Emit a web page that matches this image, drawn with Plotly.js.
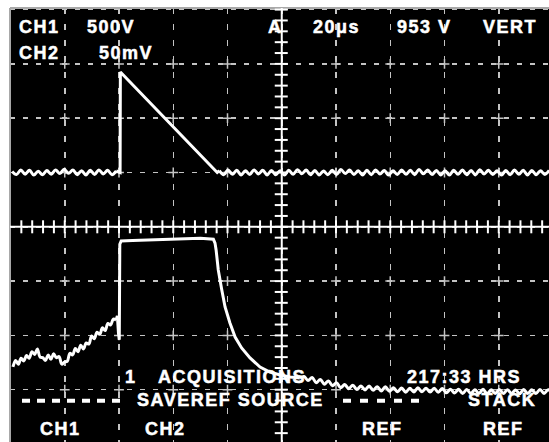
<!DOCTYPE html>
<html><head><meta charset="utf-8">
<script src="https://cdn.plot.ly/plotly-3.0.1.min.js"></script>
<style>
html,body{margin:0;padding:0;background:#fff;}
#chart{width:549px;height:442px;}
.annotation-text{letter-spacing:1.5px;stroke:#ffffff;stroke-width:0.5px;}
</style></head><body><div id="chart"></div>
<script>
// ---- scope settings ----
const timePerDivUs = 20;
const ch1VoltsPerDiv = 500;
const ch1PositionDiv = 1;
const ch2MilliVoltsPerDiv = 50;
const ch2PositionDiv = -3;

// ---- CH1 (V) vs time (µs) ----
const ch1PreTime = [0.6,2.2,3.8,5.4,7.0,8.6,10.2,11.8,13.4,15.0,16.6,18.2,19.8,21.4,23.0,24.6,26.2,27.8,29.4,31.0,32.6,34.2,35.8,37.4,39.0];
const ch1PreVolts = [10,-18,22,-15,20,-24,12,-20,18,-16,24,-10,30,-8,22,-20,16,-22,20,-18,24,-14,20,-20,14];
const ch1PulseTime = [39.0,40.4,40.5,76.2,77.0];
const ch1PulseVolts = [14,0,925,0,18];
const ch1PostTime = [77.0,78.6,80.2,81.8,83.4,85.0,86.6,88.2,89.8,91.4,93.0,94.6,96.2,97.8,99.4,101.0,102.6,104.2,105.8,107.4,109.0,110.6,112.2,113.8,115.4,117.0,118.6,120.2,121.8,123.4,125.0,126.6,128.2,129.8,131.4,133.0,134.6,136.2,137.8,139.4,141.0,142.6,144.2,145.8,147.4,149.0,150.6,152.2,153.8,155.4,157.0,158.6,160.2,161.8,163.4,165.0,166.6,168.2,169.8,171.4,173.0,174.6,176.2,177.8,179.4,181.0,182.6,184.2,185.8,187.4,189.0,190.6,192.2,193.8,195.4,197.0,198.6];
const ch1PostVolts = [18,-20,22,-16,20,-22,16,-18,24,-14,20,-22,18,-20,16,-24,20,-16,26,-12,22,-20,18,-22,14,-20,20,-18,28,-10,22,-18,16,-22,20,-20,24,-14,18,-24,16,-18,22,-16,20,-20,28,-12,24,-18,18,-22,16,-24,20,-16,22,-20,18,-22,26,-14,20,-18,16,-24,18,-20,22,-16,20,-22,18,-20,16,-18,20];

// ---- CH2 (mV) vs time (µs) ----
const ch2PreTime = [0.9,1.9,2.9,3.9,4.9,5.9,6.9,7.9,8.9,9.9,10.9,11.9,12.9,13.9,14.9,15.9,16.9,17.9,18.9,19.9,20.9,21.9,22.9,23.9,24.9,25.9,26.9,27.9,28.9,29.9,30.9,31.9,32.9,33.9,34.9,35.9,36.9,37.9,38.9];
const ch2PreMilliVolts = [21,27,23.5,29,26.5,31.5,29,35,32.5,37.5,30,29.5,27,32,28,33,29.5,30.5,23.5,25.5,26,33.5,32,38,35,41,37.5,43,42,49.5,47,53,51,57,54.5,61,59.5,65,64];
const ch2PulseTime = [38.9,39.4,39.8,40.1,40.3,40.8,45,55,65,70,74.8,75.4,75.8,76.6,77.9,79.1,80.9,82.8,85.2,88.3,92.0,95.6,99.4,103.0,106.7];
const ch2PulseMilliVolts = [64,68,52,46,134,137,137.5,138.5,139,139.5,138.5,135,128.7,110.2,91.8,76.2,61.4,48.5,38.4,29.2,20.9,16.3,13.5,11.7,10.8];
const ch2PostTime = [106.7,108.2,109.7,111.2,112.7,114.2,115.7,117.2,118.7,120.2,121.7,123.2,124.7,126.2,127.7,129.2,130.7,132.2,133.7,135.2,136.7,138.2,139.7,141.2,142.7,144.2,145.7,147.2,148.7,150.2,151.7,153.2,154.7,156.2,157.7,159.2,160.7,162.2,163.7,165.2,166.7,168.2,169.7,171.2,172.7,174.2,175.7,177.2,178.7,180.2,181.7,183.2,184.7,186.2,187.7,189.2,190.7,192.2,193.7,195.2,196.7,198.2,199.7];
const ch2PostMilliVolts = [10.8,12.2,8.5,11.2,6.4,9.4,5.1,8.1,3.7,6.4,1.8,4.7,0.9,4.2,0.1,3.5,-0.2,3.4,-0.4,2.7,-1.1,2.7,-1.5,1.7,-1.9,1.5,-2.3,1.3,-2.1,1.7,-1.9,1.4,-2.2,1.4,-2.4,1.0,-2.9,0.5,-3.1,0.3,-3.5,0.2,-3.6,0.0,-3.4,0.3,-3.8,-0.1,-3.5,0.2,-3.6,0.0,-3.4,-0.2,-3.7,0.1,-3.5,-0.1,-3.6,0.2,-3.4,0.0,-3.2];

// ---- on-screen readout texts ----
const screenLabels = ['CH1','500V','CH2','50mV','A','20\u03bcs','953 V','VERT','1','ACQUISITIONS','217:33 HRS','SAVEREF SOURCE','STACK','CH1','CH2','REF','REF'];
const labelLeftPx = [17,85,17,97,266,311,395,481,123,156,405,135,466,38,143,360,481];
const labelMidPx  = [27,27,53,53,27,27,27,27,376.5,376.5,376.5,399.5,399.5,428.5,428.5,428.5,428.5];

// ---- screen geometry ----
const W = 549, H = 442, ML = 10, MT = 8;
const pxPerDivX = 54.25, pxPerDivY = 54.3;
const x0px = 10.5, y0px = 226.8; // left edge of graticule, vertical centre
const plotW = W - ML, plotH = H - MT;
const xLeft = (ML - x0px) / pxPerDivX * timePerDivUs;
const xRight = xLeft + plotW / pxPerDivX * timePerDivUs;
const yTop = (y0px - MT) / pxPerDivY;
const yBot = yTop - plotH / pxPerDivY;
const px2paperX = p => (p - ML) / plotW;
const px2paperY = p => (H - p) / plotH;

const white = '#ffffff';
const gridCol = '#c4c4c4';

function trace(x, y, axis, shape) {
  return {x, y, yaxis: axis, type: 'scatter', mode: 'lines', hoverinfo: 'skip',
    line: {color: white, width: 3, shape: shape, smoothing: 1}, showlegend: false};
}

const data = [
  trace(ch1PreTime, ch1PreVolts, 'y2', 'spline'),
  trace(ch1PulseTime, ch1PulseVolts, 'y2', 'linear'),
  trace(ch1PostTime, ch1PostVolts, 'y2', 'spline'),
  trace(ch2PreTime, ch2PreMilliVolts, 'y3', 'spline'),
  trace(ch2PulseTime, ch2PulseMilliVolts, 'y3', 'linear'),
  trace(ch2PostTime, ch2PostMilliVolts, 'y3', 'spline')
];

// grid intersection crosses
const cx = [], cy = [];
for (let i = 1; i <= 9; i++) {
  if (i === 5) continue;
  for (let j = -3; j <= 3; j++) {
    if (j === 0) continue;
    cx.push(i * timePerDivUs); cy.push(j);
  }
}
data.unshift({x: cx, y: cy, type: 'scatter', mode: 'markers', hoverinfo: 'skip', showlegend: false,
  marker: {symbol: 'cross-thin', size: 7, color: gridCol, line: {color: gridCol, width: 1.5}}});

const shapes = [];
// border
shapes.push({type:'line', xref:'paper', yref:'paper', x0:0, x1:1, y0:1, y1:1, line:{color:'#a8a8a8', width:2}});
shapes.push({type:'line', xref:'paper', yref:'paper', x0:0, x1:0, y0:0, y1:1, line:{color:'#a8a8a8', width:2}});
// centre lines
const midT = 5 * timePerDivUs;
shapes.push({type:'line', xref:'x', yref:'paper', x0:midT, x1:midT, y0:0, y1:1, line:{color:white, width:2}});
shapes.push({type:'line', xref:'paper', yref:'y', x0:0, x1:1, y0:0, y1:0, line:{color:white, width:2}});
// minor ticks on centre lines (every 0.2 div)
for (let k = 1; k < 50; k++) {
  const t = k * timePerDivUs / 5;
  if (t > xRight) break;
  shapes.push({type:'line', xref:'x', yref:'y', x0:t, x1:t, ysizemode:'pixel', yanchor:0, y0:-6.5, y1:6.5, line:{color:white, width:2}});
}
for (let k = -20; k <= 20; k++) {
  const v = k / 5;
  if (v > yTop || v < yBot) continue;
  shapes.push({type:'line', xref:'x', yref:'y', y0:v, y1:v, xsizemode:'pixel', xanchor:midT, x0:-7, x1:6, line:{color:white, width:2}});
}
// dashed menu markers
shapes.push({type:'line', xref:'paper', yref:'paper', x0:px2paperX(22), x1:px2paperX(124), y0:px2paperY(400.7), y1:px2paperY(400.7), line:{color:white, width:4, dash:'8px,7px'}});
shapes.push({type:'line', xref:'paper', yref:'paper', x0:px2paperX(343), x1:px2paperX(421), y0:px2paperY(400.7), y1:px2paperY(400.7), line:{color:white, width:4, dash:'8px,9px'}});

const annotations = screenLabels.map((txt, i) => ({
  text: txt, xref:'paper', yref:'paper', x: px2paperX(labelLeftPx[i]), y: px2paperY(labelMidPx[i]),
  xanchor:'left', yanchor:'middle', showarrow:false, align:'left',
  font:{family:'Liberation Sans, Arial, Helvetica, sans-serif', size:18, color:white, weight:'bold'}
}));

const layout = {
  width: W, height: H,
  margin: {l: ML, r: 0, t: MT, b: 0, pad: 0},
  paper_bgcolor: '#ffffff', plot_bgcolor: '#000000',
  showlegend: false,
  xaxis: {range:[xLeft, xRight], tick0:0, dtick:timePerDivUs, showgrid:true, gridcolor:gridCol, gridwidth:1.5, griddash:'6px,10px',
    zeroline:false, showticklabels:false, ticks:'', showline:false, fixedrange:true},
  yaxis: {range:[yBot, yTop], tick0:0, dtick:1, showgrid:true, gridcolor:gridCol, gridwidth:1.5, griddash:'5px,8px',
    zeroline:false, showticklabels:false, ticks:'', showline:false, fixedrange:true},
  yaxis2: {overlaying:'y', range:[(yBot - ch1PositionDiv) * ch1VoltsPerDiv, (yTop - ch1PositionDiv) * ch1VoltsPerDiv], visible:false, fixedrange:true},
  yaxis3: {overlaying:'y', range:[(yBot - ch2PositionDiv) * ch2MilliVoltsPerDiv, (yTop - ch2PositionDiv) * ch2MilliVoltsPerDiv], visible:false, fixedrange:true},
  shapes, annotations
};

Plotly.newPlot('chart', data, layout, {staticPlot:true, displayModeBar:false});
</script></body></html>
